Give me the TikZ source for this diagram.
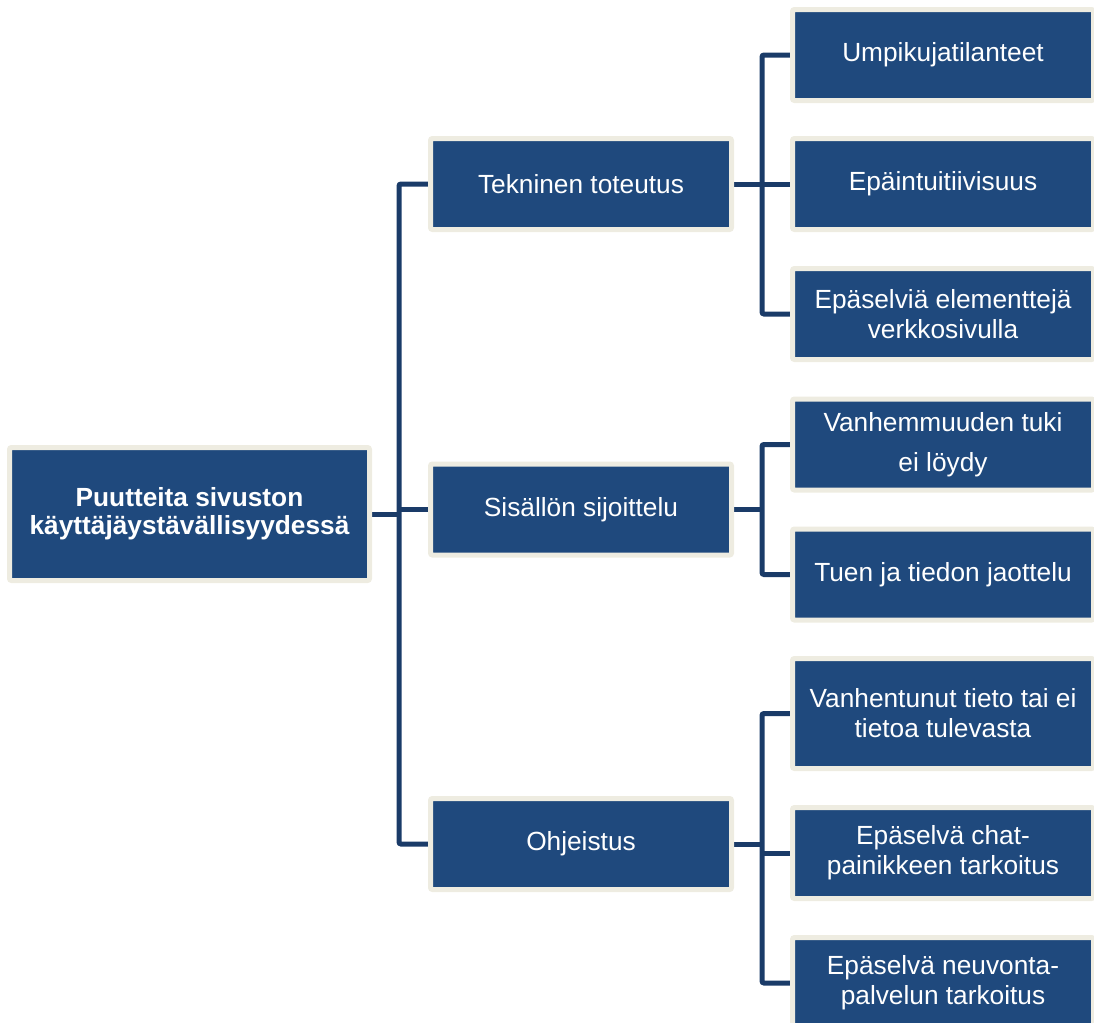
\documentclass[tikz,border=0pt]{standalone}
\usepackage{fontspec}
\setmainfont{Liberation Sans}
\usetikzlibrary{backgrounds}
\definecolor{boxfill}{HTML}{1F497D}
\definecolor{boxrim}{HTML}{EEECE1}
\definecolor{linkblue}{HTML}{1A3B68}
\begin{document}
\begin{tikzpicture}[x=0.75pt,y=-0.75pt,
  box/.style={draw=boxrim, fill=boxfill, line width=3.75pt, rounded corners=1.5pt,
    text=white, align=center, inner sep=0pt,
    font=\fontsize{19.7}{22.5}\selectfont},
  rootbox/.style={box, minimum width=270pt, minimum height=99.75pt,
    font=\fontsize{19.7}{21}\selectfont\bfseries},
  midbox/.style={box, minimum width=225.75pt, minimum height=68.25pt},
  leafbox/.style={box, minimum width=225.75pt, minimum height=68.25pt},
  conn/.style={draw=linkblue, line width=3.75pt, rounded corners=1.5pt}]
\useasboundingbox (0,0) rectangle (1094,1022);
\clip (0,0) rectangle (1094,1022);

% root
\node[rootbox] (root) at (189.5,514) {Puutteita sivuston\\käyttäjäystävällisyydessä};

% second level
\node[midbox] (tek) at (581,184) {Tekninen toteutus};
\node[midbox] (sis) at (581,509.5) {Sisällön sijoittelu};
\node[midbox] (ohj) at (581,844) {Ohjeistus};

% leaves
\node[leafbox] (u1) at (943,55) {Umpikujatilanteet};
\node[leafbox] (u2) at (943,184) {Epäintuitiivisuus};
\node[leafbox] (u3) at (943,314) {Epäselviä elementtejä\\verkkosivulla};
\node[leafbox] (u4) at (943,444.5) {Vanhemmuuden tuki\\[7.5pt]ei löydy};
\node[leafbox] (u5) at (943,574.5) {Tuen ja tiedon jaottelu};
\node[leafbox, minimum height=82.5pt] (u6) at (943,713.5) {Vanhentunut tieto tai ei\\tietoa tulevasta};
\node[leafbox] (u7) at (943,853) {Epäselvä chat-\\painikkeen tarkoitus};
\node[leafbox] (u8) at (943,983) {Epäselvä neuvonta-\\palvelun tarkoitus};

% trunk positions
\coordinate (t1) at (399,0);
\coordinate (t2) at (762,0);

\begin{scope}[on background layer]
  \draw[conn] (tek.west) -- (tek.west -| t1) |- (ohj.west);
  \draw[conn] (sis.west) -- (sis.west -| t1);
  \draw[conn] (root.east) -- (root.east -| t1);

  \draw[conn] (u1.west) -- (u1.west -| t2) |- (u3.west);
  \draw[conn] (tek.east) -- (u2.west);

  \draw[conn] (u4.west) -- (u4.west -| t2) |- (u5.west);
  \draw[conn] (sis.east) -- (sis.east -| t2);

  \draw[conn] (u6.west) -- (u6.west -| t2) |- (u8.west);
  \draw[conn] (u7.west) -- (u7.west -| t2);
  \draw[conn] (ohj.east) -- (ohj.east -| t2);
\end{scope}
\end{tikzpicture}
\end{document}
